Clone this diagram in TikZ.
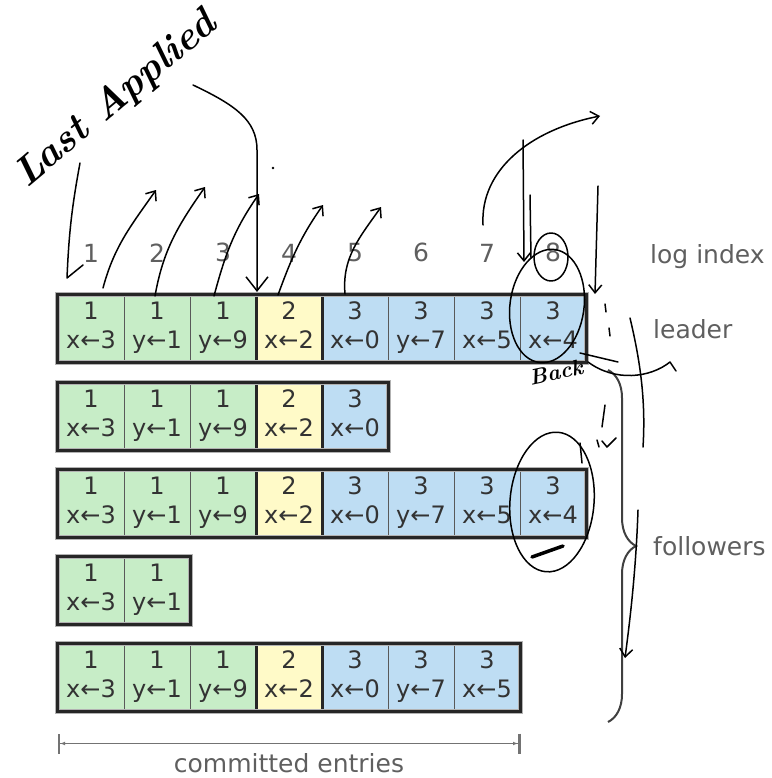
\documentclass[tikz,border=0pt]{standalone}
\usepackage{fontspec}
\newfontfamily\labelfont{DejaVu Sans}
\usetikzlibrary{positioning,arrows.meta,decorations.pathreplacing}

\definecolor{termone}{RGB}{199,237,199}
\definecolor{termtwo}{RGB}{255,250,200}
\definecolor{termthree}{RGB}{190,221,243}
\definecolor{labelgray}{RGB}{95,95,95}

\newcommand\logentries{1/x←3, 1/y←1, 1/y←9, 2/x←2, 3/x←0, 3/y←7, 3/x←5, 3/x←4}

\tikzset{
  entry/.style={draw=black!65, line width=1pt, minimum width=66pt, minimum height=67pt,
    inner sep=0pt, align=center, text=black!80, font=\labelfont\fontsize{24}{29}\selectfont},
  term 1/.style={fill=termone},
  term 2/.style={fill=termtwo},
  term 3/.style={fill=termthree},
  rowedge/.style={draw=black!85, line width=2.6pt, preaction={draw=black!30, line width=5pt}},
  termedge/.style={draw=black!85, line width=2.6pt},
  tag/.style={text=labelgray, inner sep=0pt, font=\labelfont\fontsize{25}{30}\selectfont},
  span/.style={draw=black!55, line width=1.2pt,
    {Bar[width=20pt,line width=2.5pt]Latex[length=5pt]}-{Latex[length=5pt]Bar[width=20pt,line width=2.5pt]}},
  pen/.style={line width=1.5pt, line cap=round, line join=round},
  penarrow/.style={pen, -{Straight Barb[length=8pt,width=13pt]}},
}

\begin{document}
\begin{tikzpicture}[x=1pt,y=1pt]
  \useasboundingbox (0,0) rectangle (771,-778);

  % the five logs, leader first
  \foreach \r/\n/\ytop in {1/8/295, 2/5/383, 3/8/470, 4/2/557, 5/7/644} {
    \foreach \term/\op [count=\c] in \logentries {
      \ifnum\c>\n\else
        \node[entry, term \term] (r\r-\c) at ({66*\c+25}, {-\ytop-33.5}) {\strut\term\\\strut\op};
      \fi
    }
    \ifnum\n>3 \draw[termedge] (r\r-3.north east) -- (r\r-3.south east); \fi
    \ifnum\n>4 \draw[termedge] (r\r-4.north east) -- (r\r-4.south east); \fi
    \draw[rowedge] (r\r-1.north west) rectangle (r\r-\n.south east);
  }

  \foreach \c in {1,...,8}
    \node[tag, above=32pt of r1-\c] (idx\c) {\c};

  \node[tag, anchor=base west] (logindex) at (650,-263) {log index};
  \node[tag, anchor=base west] (leader) at (653,-338) {leader};

  \draw[draw=black!75, line width=2pt, decorate, decoration={brace, amplitude=28pt}]
    (608,-370) -- (608,-722) coordinate[pos=0.5] (bracemid);
  \node[tag, anchor=base west] (followers) at (653,-555) {followers};

  \draw[span] ([yshift=-32pt]r5-1.south west) -- ([yshift=-32pt]r5-7.south east)
    node[tag, midway, below=9pt] (committed) {committed entries};

  % pen notes on top
  \node[rotate=40, font=\fontsize{40}{40}\selectfont\bfseries\itshape] (lastapplied) at (116,-100) {Last Applied};
  \node[rotate=12, font=\fontsize{22}{22}\selectfont\bfseries\itshape] (back) at (556,-372) {Back};

  \foreach \sx/\sy/\ex/\ey/\bend in {103/288/156/190/75, 155/296/205/187/80, 214/296/259/194/75,
                                      278/295/323/205/70, 345/294/381/207/95}
    \draw[penarrow] (\sx,-\sy) to[out=\bend, in=235] (\ex,-\ey);

  \draw[pen] (80,-163) to[bend right=4] (67,-278) -- (83,-265);
  \draw[pen, -{Straight Barb[length=14pt,width=22pt]}]
    (193,-85) .. controls (235,-105) and (257,-120) .. (257,-150) -- (257,-292);
  \fill (273,-168) circle (1.3pt);

  \draw[penarrow] (483,-225) .. controls (480,-170) and (530,-130) .. (600,-116);
  \draw[penarrow] (523,-140) -- (524,-262);
  \draw[pen] (530,-195) -- (531,-258);
  \draw[penarrow] (598,-186) -- (595,-294);

  \draw[pen, rotate around={-8:(547,-306)}] (547,-306) ellipse [x radius=37pt, y radius=57pt];
  \draw[pen] (551,-257) ellipse [x radius=17pt, y radius=24pt];

  \draw[pen] (588,-362) .. controls (615,-382) and (650,-378) .. (670,-362) -- (676,-371);
  \draw[pen] (580,-353) -- (618,-362);
  \draw[pen] (630,-318) .. controls (640,-360) and (646,-400) .. (643,-447);
  \draw[pen] (605,-304) -- (606,-312);
  \draw[pen] (609,-328) -- (610,-336);

  \draw[pen, rotate around={-5:(552,-502)}] (552,-502) ellipse [x radius=42pt, y radius=70pt];
  \draw[line width=3.5pt, line cap=round] (532,-557) -- (563,-546);
  \draw[pen] (580,-443) -- (582,-463);
  \draw[pen] (605,-405) -- (602,-427);
  \draw[pen] (597,-440) -- (599,-447);
  \draw[pen] (602,-441) -- (607,-447) -- (616,-438);

  \draw[penarrow] (638,-510) .. controls (636,-570) and (630,-620) .. (625,-658);
\end{tikzpicture}
\end{document}
